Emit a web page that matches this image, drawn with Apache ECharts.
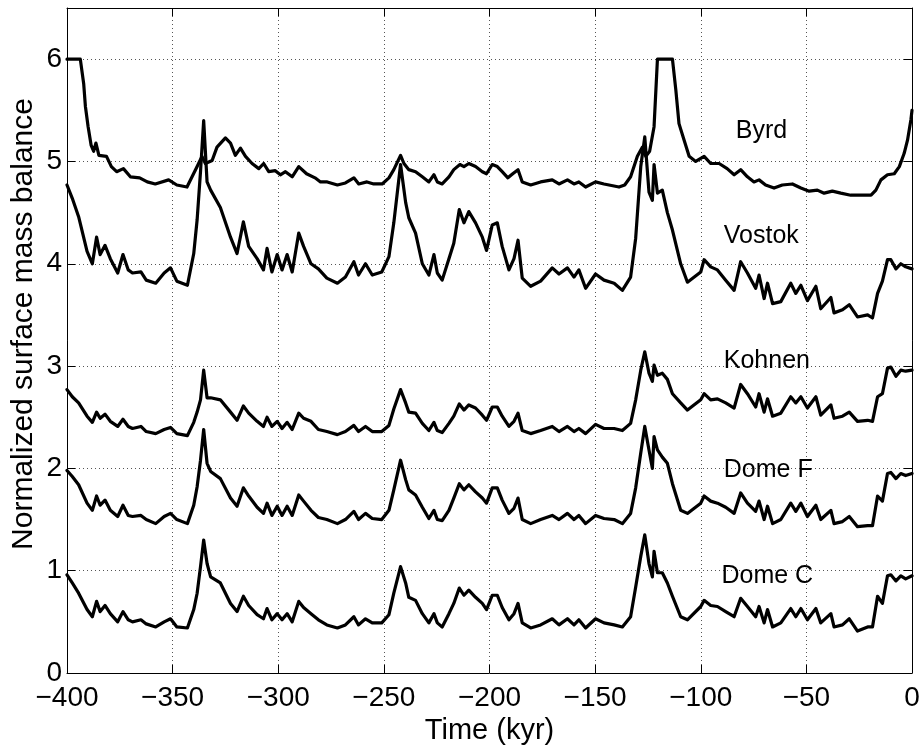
<!DOCTYPE html>
<html>
<head>
<meta charset="utf-8">
<title>Normalized surface mass balance</title>
<script src="https://cdn.jsdelivr.net/npm/echarts/dist/echarts.min.js"></script>
<style>
  html, body { margin: 0; padding: 0; background: #fff; }
  #chart { width: 922px; height: 745px; }
</style>
</head>
<body>
<div id="chart"></div>
<script>
// time axis shared by the four plateau cores (kyr)
const timeKyr = [
  -400, -397.5, -394.5, -390.5, -388, -386, -384.3, -382, -379.5, -376,
  -373.5, -371, -369, -365, -362.5, -358, -354, -351, -348, -343,
  -340, -338.4, -336.8, -335.3, -333.7, -332, -327.4, -322.6, -319.5, -316.5,
  -314, -310, -307, -305.3, -303, -300.5, -298.2, -295.8, -293.4, -290.3,
  -288, -284.5, -281, -277, -272, -268.2, -264.2, -262, -258.7, -255.5,
  -251, -247.6, -245.3, -242.1, -239.7, -238.2, -235, -231.8, -228.7, -226.3,
  -224.7, -222.4, -219.2, -216.9, -214.3, -212.1, -209.8, -206.6, -203.4, -201.4,
  -198.7, -196.3, -194, -190.8, -188.4, -186.5, -184.5, -180.5, -175.8, -170.3,
  -167.1, -163.1, -160, -157.7, -154.5, -149.8, -145.8, -141, -137.1, -133.2,
  -130.8, -128.4, -126.5, -124.5, -122.9, -122.1, -120.5, -118.2, -115.8, -113.4,
  -109.5, -106.3, -100, -98.4, -95.3, -92.1, -88.2, -84.2, -81.1, -77.9,
  -74, -72.4, -70, -68.4, -66, -62.1, -57.4, -55, -52.6, -49.5,
  -45.5, -43.2, -38.4, -36.9, -32.9, -29.7, -25.8, -21, -18.7, -16.3,
  -14, -11.6, -10, -7.6, -5.3, -3, 0
];

const domeC = [
  0.96, 0.88, 0.78, 0.62, 0.55, 0.70, 0.60, 0.66, 0.58, 0.50,
  0.60, 0.52, 0.50, 0.52, 0.48, 0.45, 0.50, 0.53, 0.45, 0.44,
  0.62, 0.78, 1.04, 1.30, 1.07, 0.94, 0.88, 0.68, 0.60, 0.75,
  0.66, 0.57, 0.53, 0.63, 0.52, 0.58, 0.52, 0.58, 0.50, 0.70,
  0.64, 0.58, 0.52, 0.47, 0.44, 0.47, 0.55, 0.47, 0.53, 0.49,
  0.49, 0.57, 0.78, 1.04, 0.88, 0.74, 0.71, 0.58, 0.49, 0.58,
  0.49, 0.45, 0.58, 0.68, 0.83, 0.76, 0.81, 0.74, 0.68, 0.62,
  0.76, 0.76, 0.64, 0.52, 0.58, 0.68, 0.49, 0.44, 0.47, 0.53,
  0.47, 0.53, 0.47, 0.52, 0.44, 0.53, 0.49, 0.47, 0.45, 0.55,
  0.84, 1.14, 1.35, 1.07, 0.94, 1.19, 0.98, 0.98, 0.88, 0.75,
  0.55, 0.52, 0.65, 0.71, 0.66, 0.65, 0.60, 0.55, 0.73, 0.65,
  0.55, 0.65, 0.49, 0.62, 0.45, 0.49, 0.63, 0.55, 0.63, 0.52,
  0.63, 0.49, 0.58, 0.45, 0.47, 0.53, 0.41, 0.45, 0.45, 0.75,
  0.68, 0.95, 0.96, 0.90, 0.95, 0.92, 0.95
];

const domeF = [
  1.98, 1.92, 1.84, 1.66, 1.59, 1.73, 1.64, 1.69, 1.59, 1.53,
  1.64, 1.54, 1.53, 1.54, 1.50, 1.46, 1.53, 1.56, 1.50, 1.46,
  1.64, 1.82, 2.08, 2.38, 2.05, 1.97, 1.90, 1.71, 1.63, 1.81,
  1.73, 1.62, 1.56, 1.66, 1.54, 1.63, 1.54, 1.63, 1.54, 1.74,
  1.68, 1.59, 1.52, 1.50, 1.46, 1.50, 1.58, 1.50, 1.56, 1.51,
  1.50, 1.59, 1.79, 2.08, 1.89, 1.79, 1.74, 1.62, 1.51, 1.59,
  1.50, 1.49, 1.59, 1.71, 1.85, 1.79, 1.84, 1.77, 1.71, 1.66,
  1.81, 1.81, 1.69, 1.56, 1.61, 1.71, 1.50, 1.46, 1.50, 1.54,
  1.50, 1.56, 1.50, 1.54, 1.46, 1.54, 1.51, 1.50, 1.46, 1.56,
  1.81, 2.15, 2.41, 2.18, 2.00, 2.31, 2.18, 2.11, 2.05, 1.85,
  1.59, 1.56, 1.66, 1.73, 1.68, 1.66, 1.62, 1.56, 1.76, 1.66,
  1.58, 1.68, 1.50, 1.63, 1.46, 1.50, 1.66, 1.58, 1.66, 1.53,
  1.64, 1.50, 1.59, 1.46, 1.48, 1.53, 1.43, 1.44, 1.44, 1.73,
  1.68, 1.95, 1.96, 1.90, 1.95, 1.93, 1.95
];

const kohnen = [
  2.77, 2.70, 2.64, 2.51, 2.45, 2.55, 2.49, 2.53, 2.46, 2.41,
  2.48, 2.41, 2.39, 2.41, 2.36, 2.34, 2.38, 2.40, 2.34, 2.32,
  2.45, 2.55, 2.67, 2.96, 2.69, 2.69, 2.67, 2.55, 2.47, 2.61,
  2.54, 2.46, 2.41, 2.50, 2.41, 2.46, 2.39, 2.45, 2.38, 2.54,
  2.49, 2.46, 2.38, 2.36, 2.33, 2.36, 2.42, 2.36, 2.41, 2.36,
  2.36, 2.42, 2.58, 2.77, 2.64, 2.55, 2.54, 2.44, 2.37, 2.45,
  2.37, 2.35, 2.44, 2.51, 2.63, 2.57, 2.62, 2.59, 2.52, 2.47,
  2.60, 2.60, 2.51, 2.41, 2.46, 2.54, 2.37, 2.34, 2.37, 2.41,
  2.36, 2.41, 2.36, 2.39, 2.34, 2.43, 2.39, 2.39, 2.37, 2.44,
  2.67, 2.96, 3.14, 2.93, 2.85, 3.01, 2.91, 2.93, 2.87, 2.73,
  2.64, 2.57, 2.67, 2.73, 2.67, 2.68, 2.64, 2.59, 2.82, 2.73,
  2.60, 2.73, 2.55, 2.68, 2.51, 2.54, 2.70, 2.64, 2.70, 2.59,
  2.70, 2.52, 2.62, 2.49, 2.51, 2.55, 2.46, 2.47, 2.46, 2.70,
  2.73, 2.98, 2.99, 2.90, 2.96, 2.95, 2.96
];

const vostok = [
  4.77, 4.64, 4.46, 4.12, 4.00, 4.26, 4.09, 4.18, 4.05, 3.91,
  4.09, 3.94, 3.91, 3.92, 3.84, 3.81, 3.91, 3.96, 3.83, 3.79,
  4.10, 4.43, 4.90, 5.40, 4.80, 4.72, 4.55, 4.26, 4.10, 4.41,
  4.17, 4.05, 3.94, 4.15, 3.92, 4.09, 3.94, 4.09, 3.92, 4.30,
  4.17, 4.00, 3.95, 3.86, 3.81, 3.87, 4.02, 3.89, 4.00, 3.89,
  3.92, 4.07, 4.40, 4.97, 4.60, 4.45, 4.30, 4.00, 3.89, 4.09,
  3.91, 3.84, 4.05, 4.20, 4.53, 4.40, 4.51, 4.40, 4.26, 4.13,
  4.38, 4.40, 4.17, 3.94, 4.05, 4.23, 3.86, 3.78, 3.83, 3.96,
  3.90, 3.96, 3.87, 3.94, 3.76, 3.90, 3.84, 3.81, 3.74, 3.87,
  4.25, 4.95, 5.24, 4.70, 4.62, 4.97, 4.69, 4.72, 4.50, 4.33,
  4.00, 3.82, 3.92, 4.04, 3.97, 3.94, 3.84, 3.74, 4.02, 3.91,
  3.76, 3.89, 3.66, 3.81, 3.61, 3.63, 3.81, 3.71, 3.79, 3.64,
  3.78, 3.56, 3.67, 3.52, 3.55, 3.60, 3.48, 3.50, 3.47, 3.71,
  3.83, 4.04, 4.04, 3.95, 4.00, 3.97, 3.95
];

// Byrd has its own sampling (flat clipped parts at 6)
const byrdTime = [
  -400, -393.7, -392.1, -391.3, -390, -388.6, -387.4, -386.3, -384.9, -381.3,
  -379, -376.5, -373.3, -370, -365.6, -362, -358.2, -351.9, -348, -343.2,
  -340.8, -338.4, -336.1, -334.5, -331.3, -329, -325, -322.6, -320.3, -317.9,
  -315.5, -312.4, -309.2, -306.9, -304.5, -301.4, -299, -296.6, -293.4, -290.3,
  -286.6, -282.6, -280, -276.8, -272, -268.2, -264.2, -261.9, -258, -254.8,
  -250.8, -247.6, -245.3, -242.1, -240.5, -238.2, -235, -231.8, -228.7, -226.3,
  -224.7, -222.4, -219.2, -216.9, -214, -212.1, -209.8, -206.6, -203.4, -201.4,
  -198.7, -196.3, -194, -191.3, -189, -186.5, -184.5, -180.5, -175.8, -170.3,
  -167.1, -163.1, -160, -157.7, -154.5, -149.8, -145.8, -138.7, -136, -133.2,
  -130, -127.6, -126, -124.2, -122.1, -120.5, -113.4, -111.8, -110.3, -107.9,
  -105.5, -102.4, -98.4, -95.3, -91.3, -87.5, -84.2, -81.1, -77.9, -74.8,
  -72.4, -69.3, -65.3, -61.4, -56.6, -52.6, -48.7, -44.8, -41.6, -37.7,
  -33.7, -29, -24.2, -19.4, -17.1, -14.7, -11.6, -8.4, -6, -3.7,
  -2.1, -0.5, 0
];
const byrd = [
  6.0, 6.0, 5.76, 5.54, 5.34, 5.16, 5.10, 5.18, 5.06, 5.05,
  4.95, 4.90, 4.93, 4.85, 4.84, 4.80, 4.78, 4.82, 4.77, 4.75,
  4.85, 4.95, 5.05, 4.98, 5.01, 5.14, 5.23, 5.18, 5.06, 5.13,
  5.05, 4.98, 4.93, 4.98, 4.90, 4.91, 4.87, 4.90, 4.85, 4.95,
  4.88, 4.84, 4.80, 4.80, 4.77, 4.79, 4.84, 4.78, 4.80, 4.78,
  4.78, 4.84, 4.92, 5.06, 4.98, 4.92, 4.90, 4.85, 4.80, 4.87,
  4.80, 4.78, 4.85, 4.92, 4.97, 4.95, 4.98, 4.95, 4.90, 4.88,
  4.97, 4.95, 4.90, 4.84, 4.88, 4.92, 4.80, 4.77, 4.80, 4.82,
  4.78, 4.82, 4.78, 4.80, 4.75, 4.80, 4.78, 4.75, 4.77, 4.85,
  5.05, 5.14, 5.05, 5.10, 5.34, 6.0, 6.0, 5.70, 5.37, 5.21,
  5.05, 5.00, 5.05, 4.98, 4.98, 4.93, 4.87, 4.92, 4.85, 4.80,
  4.82, 4.77, 4.74, 4.77, 4.78, 4.74, 4.71, 4.72, 4.69, 4.71,
  4.69, 4.67, 4.67, 4.67, 4.72, 4.82, 4.87, 4.88, 4.95, 5.08,
  5.21, 5.41, 5.50
];

// site labels, anchored at their left edge in data units
const siteNames = ['Byrd', 'Vostok', 'Kohnen', 'Dome F', 'Dome C'];
const labelTime = [-83.4, -89.1, -89.1, -89.1, -90.2];
const labelLevel = [5.30, 4.27, 3.05, 1.98, 0.95];

const xTicks = { min: -400, max: 0, interval: 50 };
const yTicks = { min: 0, max: 6.5, interval: 1 };

const FONT = '"Liberation Sans", Arial, Helvetica, sans-serif';

function zip(xs, ys) {
  const n = Math.min(xs.length, ys.length);
  const out = [];
  for (let i = 0; i < n; i++) out.push([xs[i], ys[i]]);
  return out;
}

function lineSeries(name, xs, ys) {
  return {
    name: name,
    type: 'line',
    data: zip(xs, ys),
    showSymbol: false,
    symbol: 'none',
    lineStyle: { color: '#000', width: 3.2, join: 'round', cap: 'round' },
    z: 3
  };
}

const fmtMinus = v => (v < 0 ? '\u2212' + Math.abs(v) : String(v));

const chart = echarts.init(document.getElementById('chart'), null, { renderer: 'canvas' });

const dotted = { color: '#555', width: 1, type: [1, 3] };
const boxLine = { show: true, onZero: false, lineStyle: { color: '#000', width: 1 } };
const innerTick = { show: true, inside: true, length: 8, lineStyle: { color: '#000' } };

const yLabel = {
  type: 'text',
  x: 24,
  y: 324,
  rotation: Math.PI / 2,
  style: {
    text: 'Normalized surface mass balance',
    font: '30px ' + FONT,
    fill: '#000',
    textAlign: 'center',
    textVerticalAlign: 'middle'
  }
};

const option = {
  animation: false,
  backgroundColor: '#fff',
  grid: {
    left: 67, right: 10, top: 8, bottom: 72,
    containLabel: false,
    outerBoundsMode: 'none'
  },
  xAxis: [
    {
      type: 'value',
      min: xTicks.min, max: xTicks.max, interval: xTicks.interval,
      position: 'bottom',
      name: 'Time (kyr)',
      nameLocation: 'middle',
      nameGap: 39,
      nameTextStyle: { fontFamily: FONT, fontSize: 29, color: '#000' },
      axisLine: boxLine,
      axisTick: innerTick,
      axisLabel: { fontFamily: FONT, fontSize: 28, color: '#000', margin: 11, formatter: fmtMinus },
      splitLine: { show: true, lineStyle: dotted }
    },
    {
      type: 'value',
      min: xTicks.min, max: xTicks.max, interval: xTicks.interval,
      position: 'top',
      axisLine: boxLine,
      axisTick: innerTick,
      axisLabel: { show: false },
      splitLine: { show: false }
    }
  ],
  yAxis: [
    {
      type: 'value',
      min: yTicks.min, max: yTicks.max, interval: yTicks.interval,
      position: 'left',
      axisLine: boxLine,
      axisTick: innerTick,
      axisLabel: {
        fontFamily: FONT, fontSize: 28, color: '#000', margin: 5,
        showMaxLabel: false,
        formatter: v => (v > 6 ? '' : fmtMinus(v))
      },
      splitLine: { show: true, lineStyle: dotted }
    },
    {
      type: 'value',
      min: yTicks.min, max: yTicks.max, interval: yTicks.interval,
      position: 'right',
      axisLine: boxLine,
      axisTick: innerTick,
      axisLabel: { show: false },
      splitLine: { show: false }
    }
  ],
  graphic: [yLabel],
  series: [
    lineSeries('Byrd', byrdTime, byrd),
    lineSeries('Vostok', timeKyr, vostok),
    lineSeries('Kohnen', timeKyr, kohnen),
    lineSeries('Dome F', timeKyr, domeF),
    lineSeries('Dome C', timeKyr, domeC)
  ]
};

chart.setOption(option);

// site names placed through the axes' own scale
const siteTexts = siteNames.map((s, i) => {
  const p = chart.convertToPixel({ gridIndex: 0 }, [labelTime[i], labelLevel[i]]);
  return {
    type: 'text',
    x: p[0],
    y: p[1],
    z: 10,
    style: {
      text: s,
      font: '25px ' + FONT,
      fill: '#000',
      textAlign: 'left',
      textVerticalAlign: 'middle'
    }
  };
});
chart.setOption({ graphic: [yLabel].concat(siteTexts) });
</script>
</body>
</html>
